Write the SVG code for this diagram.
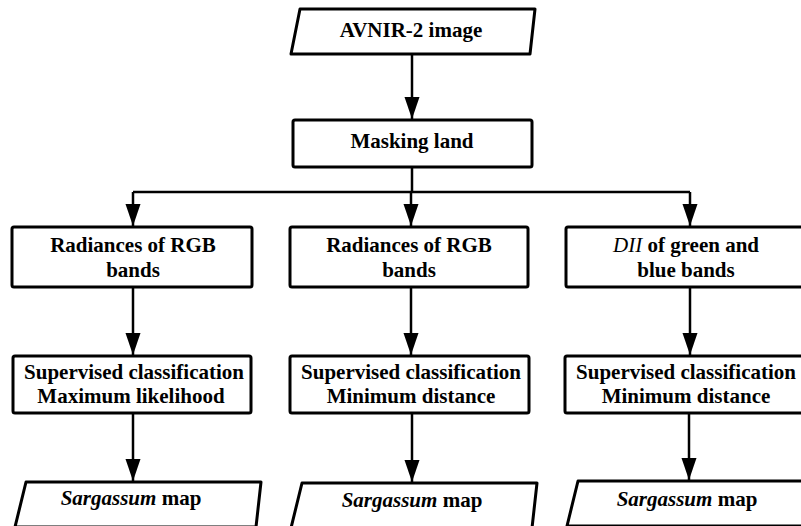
<svg xmlns="http://www.w3.org/2000/svg" width="801" height="526" viewBox="0 0 801 526">
<defs>
<style>
.n{fill:#fff;stroke:#000;stroke-width:3;stroke-linejoin:round}
.t{font-size:21px;font-weight:bold;text-anchor:middle;fill:#000}
.c{fill:none;stroke:#000;stroke-width:2.5}
.a{marker-end:url(#ah)}
</style>
<marker id="ah" markerUnits="userSpaceOnUse" markerWidth="24" markerHeight="18" viewBox="0 -9 24 18" refX="22" refY="0" orient="auto">
<path d="M0,-7.5 L22,0 L0,7.5 Z" fill="#000"/>
</marker>
</defs>
<rect width="801" height="526" fill="#fff"/>
<g id="connectors">
<path class="c a" d="M412,55 V119"/>
<path class="c" d="M412,167 V192 M133,192 H690"/>
<path class="c a" d="M133,192 V226"/>
<path class="c a" d="M411,192 V226"/>
<path class="c a" d="M690,192 V226"/>
<path class="c a" d="M133,287 V355"/>
<path class="c a" d="M411,287 V355"/>
<path class="c a" d="M690,287 V355"/>
<path class="c a" d="M133,413 V481"/>
<path class="c a" d="M412,413 V482"/>
<path class="c a" d="M689,413 V480"/>
</g>
<g font-family="Liberation Serif, Times New Roman, DejaVu Serif, serif">
<g id="avnir">
<polygon class="n" points="300,9 535,9 530,54 291,54"/>
<text class="t" x="411" y="37">AVNIR-2 image</text>
</g>
<g id="masking">
<rect class="n" x="293" y="120" width="239" height="47" rx="2"/>
<text class="t" x="412" y="148">Masking land</text>
</g>
<g id="rad1">
<rect class="n" x="12" y="227" width="240" height="60" rx="2"/>
<text class="t" x="133" y="252">Radiances of RGB</text>
<text class="t" x="133" y="277">bands</text>
</g>
<g id="rad2">
<rect class="n" x="290" y="227" width="238" height="60" rx="2"/>
<text class="t" x="409" y="252">Radiances of RGB</text>
<text class="t" x="409" y="277">bands</text>
</g>
<g id="dii">
<rect class="n" x="566" y="227" width="260" height="60" rx="2"/>
<text class="t" x="686" y="252"><tspan font-style="italic" font-weight="normal">DII</tspan> of green and</text>
<text class="t" x="686" y="277">blue bands</text>
</g>
<g id="sc1">
<rect class="n" x="13" y="356" width="238" height="57" rx="2"/>
<text class="t" x="134" y="379">Supervised classification</text>
<text class="t" x="131" y="403">Maximum likelihood</text>
</g>
<g id="sc2">
<rect class="n" x="290" y="356" width="239" height="57" rx="2"/>
<text class="t" x="411" y="379">Supervised classification</text>
<text class="t" x="411" y="403">Minimum distance</text>
</g>
<g id="sc3">
<rect class="n" x="565" y="356" width="260" height="57" rx="2"/>
<text class="t" x="686" y="379">Supervised classification</text>
<text class="t" x="686" y="403">Minimum distance</text>
</g>
<g id="map1">
<polygon class="n" points="26,482 261,482 256,527 15,527"/>
<text class="t" x="131" y="505"><tspan font-style="italic">Sargassum</tspan> map</text>
</g>
<g id="map2">
<polygon class="n" points="302,483 537,483 532,528 291,528"/>
<text class="t" x="412" y="507"><tspan font-style="italic">Sargassum</tspan> map</text>
</g>
<g id="map3">
<polygon class="n" points="578,481 830,481 825,526 567,526"/>
<text class="t" x="687" y="506"><tspan font-style="italic">Sargassum</tspan> map</text>
</g>
</g>
</svg>
